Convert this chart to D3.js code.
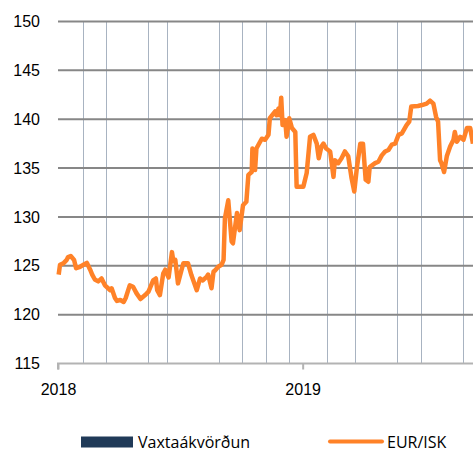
<!DOCTYPE html>
<html>
<head>
<meta charset="utf-8">
<script src="https://cdn.jsdelivr.net/npm/d3@7"></script>
<style>
    body { margin: 0; background: #fff; }
    svg { display: block; font-family: "Open Sans", "Noto Sans", sans-serif; }
    .ylab { font-size: 16px; fill: #000; }
    .xlab { font-size: 16px; fill: #000; }
    .leg { font-size: 16px; fill: #000; }
</style>
</head>
<body>
<div id="chart"></div>
<script>
// EUR/ISK daily rate
var dates = [
    "2018-01-02","2018-01-04","2018-01-09","2018-01-14","2018-01-16","2018-01-20","2018-01-25","2018-01-28",
    "2018-02-03","2018-02-08","2018-02-13","2018-02-18","2018-02-21","2018-02-25","2018-03-02","2018-03-07",
    "2018-03-12","2018-03-20","2018-03-22","2018-03-27","2018-03-30","2018-04-04","2018-04-09","2018-04-12",
    "2018-04-18","2018-04-23","2018-04-28","2018-05-04","2018-05-11","2018-05-16","2018-05-23","2018-05-27",
    "2018-05-29","2018-06-02","2018-06-07","2018-06-10","2018-06-15","2018-06-20","2018-06-22","2018-06-25",
    "2018-06-29","2018-07-04","2018-07-07","2018-07-14","2018-07-19","2018-07-27","2018-08-01","2018-08-05",
    "2018-08-11","2018-08-13","2018-08-18","2018-08-21","2018-08-23","2018-08-28","2018-09-02","2018-09-05",
    "2018-09-07","2018-09-12","2018-09-17","2018-09-19","2018-09-25","2018-09-29","2018-10-04","2018-10-09",
    "2018-10-12","2018-10-17","2018-10-18","2018-10-22","2018-10-24","2018-11-01","2018-11-06","2018-11-11",
    "2018-11-13","2018-11-21","2018-11-23","2018-11-26","2018-11-28","2018-11-30","2018-12-02","2018-12-06",
    "2018-12-08","2018-12-12","2018-12-16","2018-12-21","2018-12-23","2019-01-02","2019-01-07","2019-01-12",
    "2019-01-17","2019-01-22","2019-01-25","2019-01-29","2019-02-01","2019-02-05","2019-02-11","2019-02-16",
    "2019-02-18","2019-02-23","2019-02-28","2019-03-05","2019-03-10","2019-03-15","2019-03-19","2019-03-23",
    "2019-03-28","2019-04-01","2019-04-05","2019-04-09","2019-04-11","2019-04-19","2019-04-24","2019-04-29",
    "2019-05-04","2019-05-09","2019-05-14","2019-05-19","2019-05-24","2019-05-29","2019-06-05","2019-06-09",
    "2019-06-12","2019-06-22","2019-06-28","2019-07-05","2019-07-10","2019-07-15","2019-07-19","2019-07-22",
    "2019-07-25","2019-07-27","2019-07-31","2019-08-04","2019-08-09","2019-08-14","2019-08-16","2019-08-19",
    "2019-08-24","2019-08-29","2019-09-03","2019-09-08","2019-09-12"
];
var eurisk = [
    124.1,125.1,125.25,125.6,125.9,126.0,125.6,124.75,
    124.9,125.1,125.3,124.6,124.1,123.6,123.4,123.7,
    123.0,122.5,122.7,121.7,121.4,121.5,121.3,121.7,
    123.0,122.85,122.2,121.6,122.0,122.35,123.5,123.7,
    122.5,122.0,124.2,124.6,123.8,126.4,125.5,125.6,
    123.2,124.5,125.25,125.25,124.05,122.5,123.7,123.5,
    123.9,124.1,122.7,124.4,124.5,124.9,125.1,125.6,
    129.85,131.7,127.5,127.3,130.4,128.65,131.2,131.55,
    134.3,134.6,137.0,134.8,137.0,138.0,137.9,138.4,
    140.1,140.8,140.4,141.1,140.4,142.2,139.4,139.9,
    138.2,140.1,139.1,138.7,133.1,133.1,134.5,138.2,
    138.4,137.5,136.0,137.2,137.5,137.0,136.7,134.1,
    135.8,135.5,136.0,136.7,136.2,133.95,132.6,135.1,
    137.5,137.5,133.8,133.6,135.1,135.5,135.65,136.3,
    136.7,136.85,137.4,137.5,138.4,138.55,139.4,139.75,
    141.3,141.35,141.45,141.6,141.9,141.6,140.25,139.75,
    135.8,135.5,134.6,136.2,137.2,137.9,138.7,137.7,
    138.2,137.9,139.1,139.1,137.5
];
// Interest rate decision dates (Vaxtaákvörðun)
var decisions = [
    "2018-02-07","2018-03-14","2018-05-16","2018-06-13","2018-08-29","2018-10-03","2018-11-07",
    "2018-12-12","2019-02-06","2019-03-20","2019-05-22","2019-06-26","2019-08-28"
];
var yTicks = [115, 120, 125, 130, 135, 140, 145, 150];
var xTicks = ["2018-01-01", "2019-01-01"];
var legendNames = ["Vaxtaákvörðun", "EUR/ISK"];

var W = 473, H = 452;
var margin = { top: 21.5, left: 58, bottom: 88.5 };
var parse = d3.timeParse("%Y-%m-%d");

var data = dates.map(function (d, i) { return { date: parse(d), value: eurisk[i] }; });

var svg = d3.select("#chart").append("svg")
    .attr("width", W)
    .attr("height", H);

var x = d3.scaleTime()
    .domain([parse("2018-01-01"), parse("2019-09-13")])
    .range([margin.left, 473.6]);
var y = d3.scaleLinear()
    .domain([115, 150])
    .range([H - margin.bottom, margin.top]);

// vertical decision lines
svg.append("g")
    .selectAll("line")
    .data(decisions)
    .enter().append("line")
    .attr("x1", function (d) { return Math.round(x(parse(d))) + 0.5; })
    .attr("x2", function (d) { return Math.round(x(parse(d))) + 0.5; })
    .attr("y1", y(150))
    .attr("y2", y(115))
    .attr("stroke", "#a8b3c1")
    .attr("stroke-width", 1);

// horizontal gridlines
svg.append("g")
    .selectAll("line")
    .data(yTicks.filter(function (d) { return d > 115; }))
    .enter().append("line")
    .attr("x1", margin.left)
    .attr("x2", W)
    .attr("y1", function (d) { return y(d); })
    .attr("y2", function (d) { return y(d); })
    .attr("stroke", "#878787")
    .attr("stroke-width", 2);

// x axis
var xAxis = d3.axisBottom(x)
    .tickValues(xTicks.map(parse))
    .tickFormat(d3.timeFormat("%Y"))
    .tickSize(6)
    .tickPadding(14);

var gx = svg.append("g")
    .attr("transform", "translate(0," + y(115) + ")")
    .call(xAxis);
gx.select(".domain").attr("stroke", "#b3b3b3").attr("stroke-width", 2)
    .attr("d", "M" + margin.left + ",6V0H" + W);
gx.selectAll(".tick line").attr("stroke", "#b3b3b3").attr("stroke-width", 2);
gx.selectAll(".tick text").attr("class", "xlab").attr("font-family", null).attr("font-size", null);

// y labels
var yAxis = d3.axisLeft(y)
    .tickValues(yTicks)
    .tickSize(0)
    .tickPadding(18);
var gy = svg.append("g")
    .attr("transform", "translate(" + margin.left + ",0)")
    .call(yAxis);
gy.select(".domain").remove();
gy.selectAll(".tick text").attr("class", "ylab").attr("font-family", null).attr("font-size", null);

// EUR/ISK line
svg.append("clipPath").attr("id", "clip")
    .append("rect").attr("x", margin.left - 3).attr("y", 0).attr("width", W).attr("height", H);

var line = d3.line()
    .x(function (d) { return x(d.date); })
    .y(function (d) { return y(d.value); });

svg.append("path")
    .datum(data)
    .attr("clip-path", "url(#clip)")
    .attr("fill", "none")
    .attr("stroke", "#ff8228")
    .attr("stroke-width", 4.5)
    .attr("stroke-linejoin", "round")
    .attr("d", line);

// legend
var leg = svg.append("g");
leg.append("rect")
    .attr("x", 81).attr("y", 436.5)
    .attr("width", 52).attr("height", 11)
    .attr("fill", "#203a58");
leg.append("text").attr("class", "leg")
    .attr("x", 138).attr("y", 447.5)
    .text(legendNames[0]);
leg.append("line")
    .attr("x1", 330).attr("x2", 382)
    .attr("y1", 441.5).attr("y2", 441.5)
    .attr("stroke", "#ff8228").attr("stroke-width", 4)
    .attr("stroke-linecap", "round");
leg.append("text").attr("class", "leg")
    .attr("x", 387).attr("y", 447.5)
    .text(legendNames[1]);
</script>
</body>
</html>
